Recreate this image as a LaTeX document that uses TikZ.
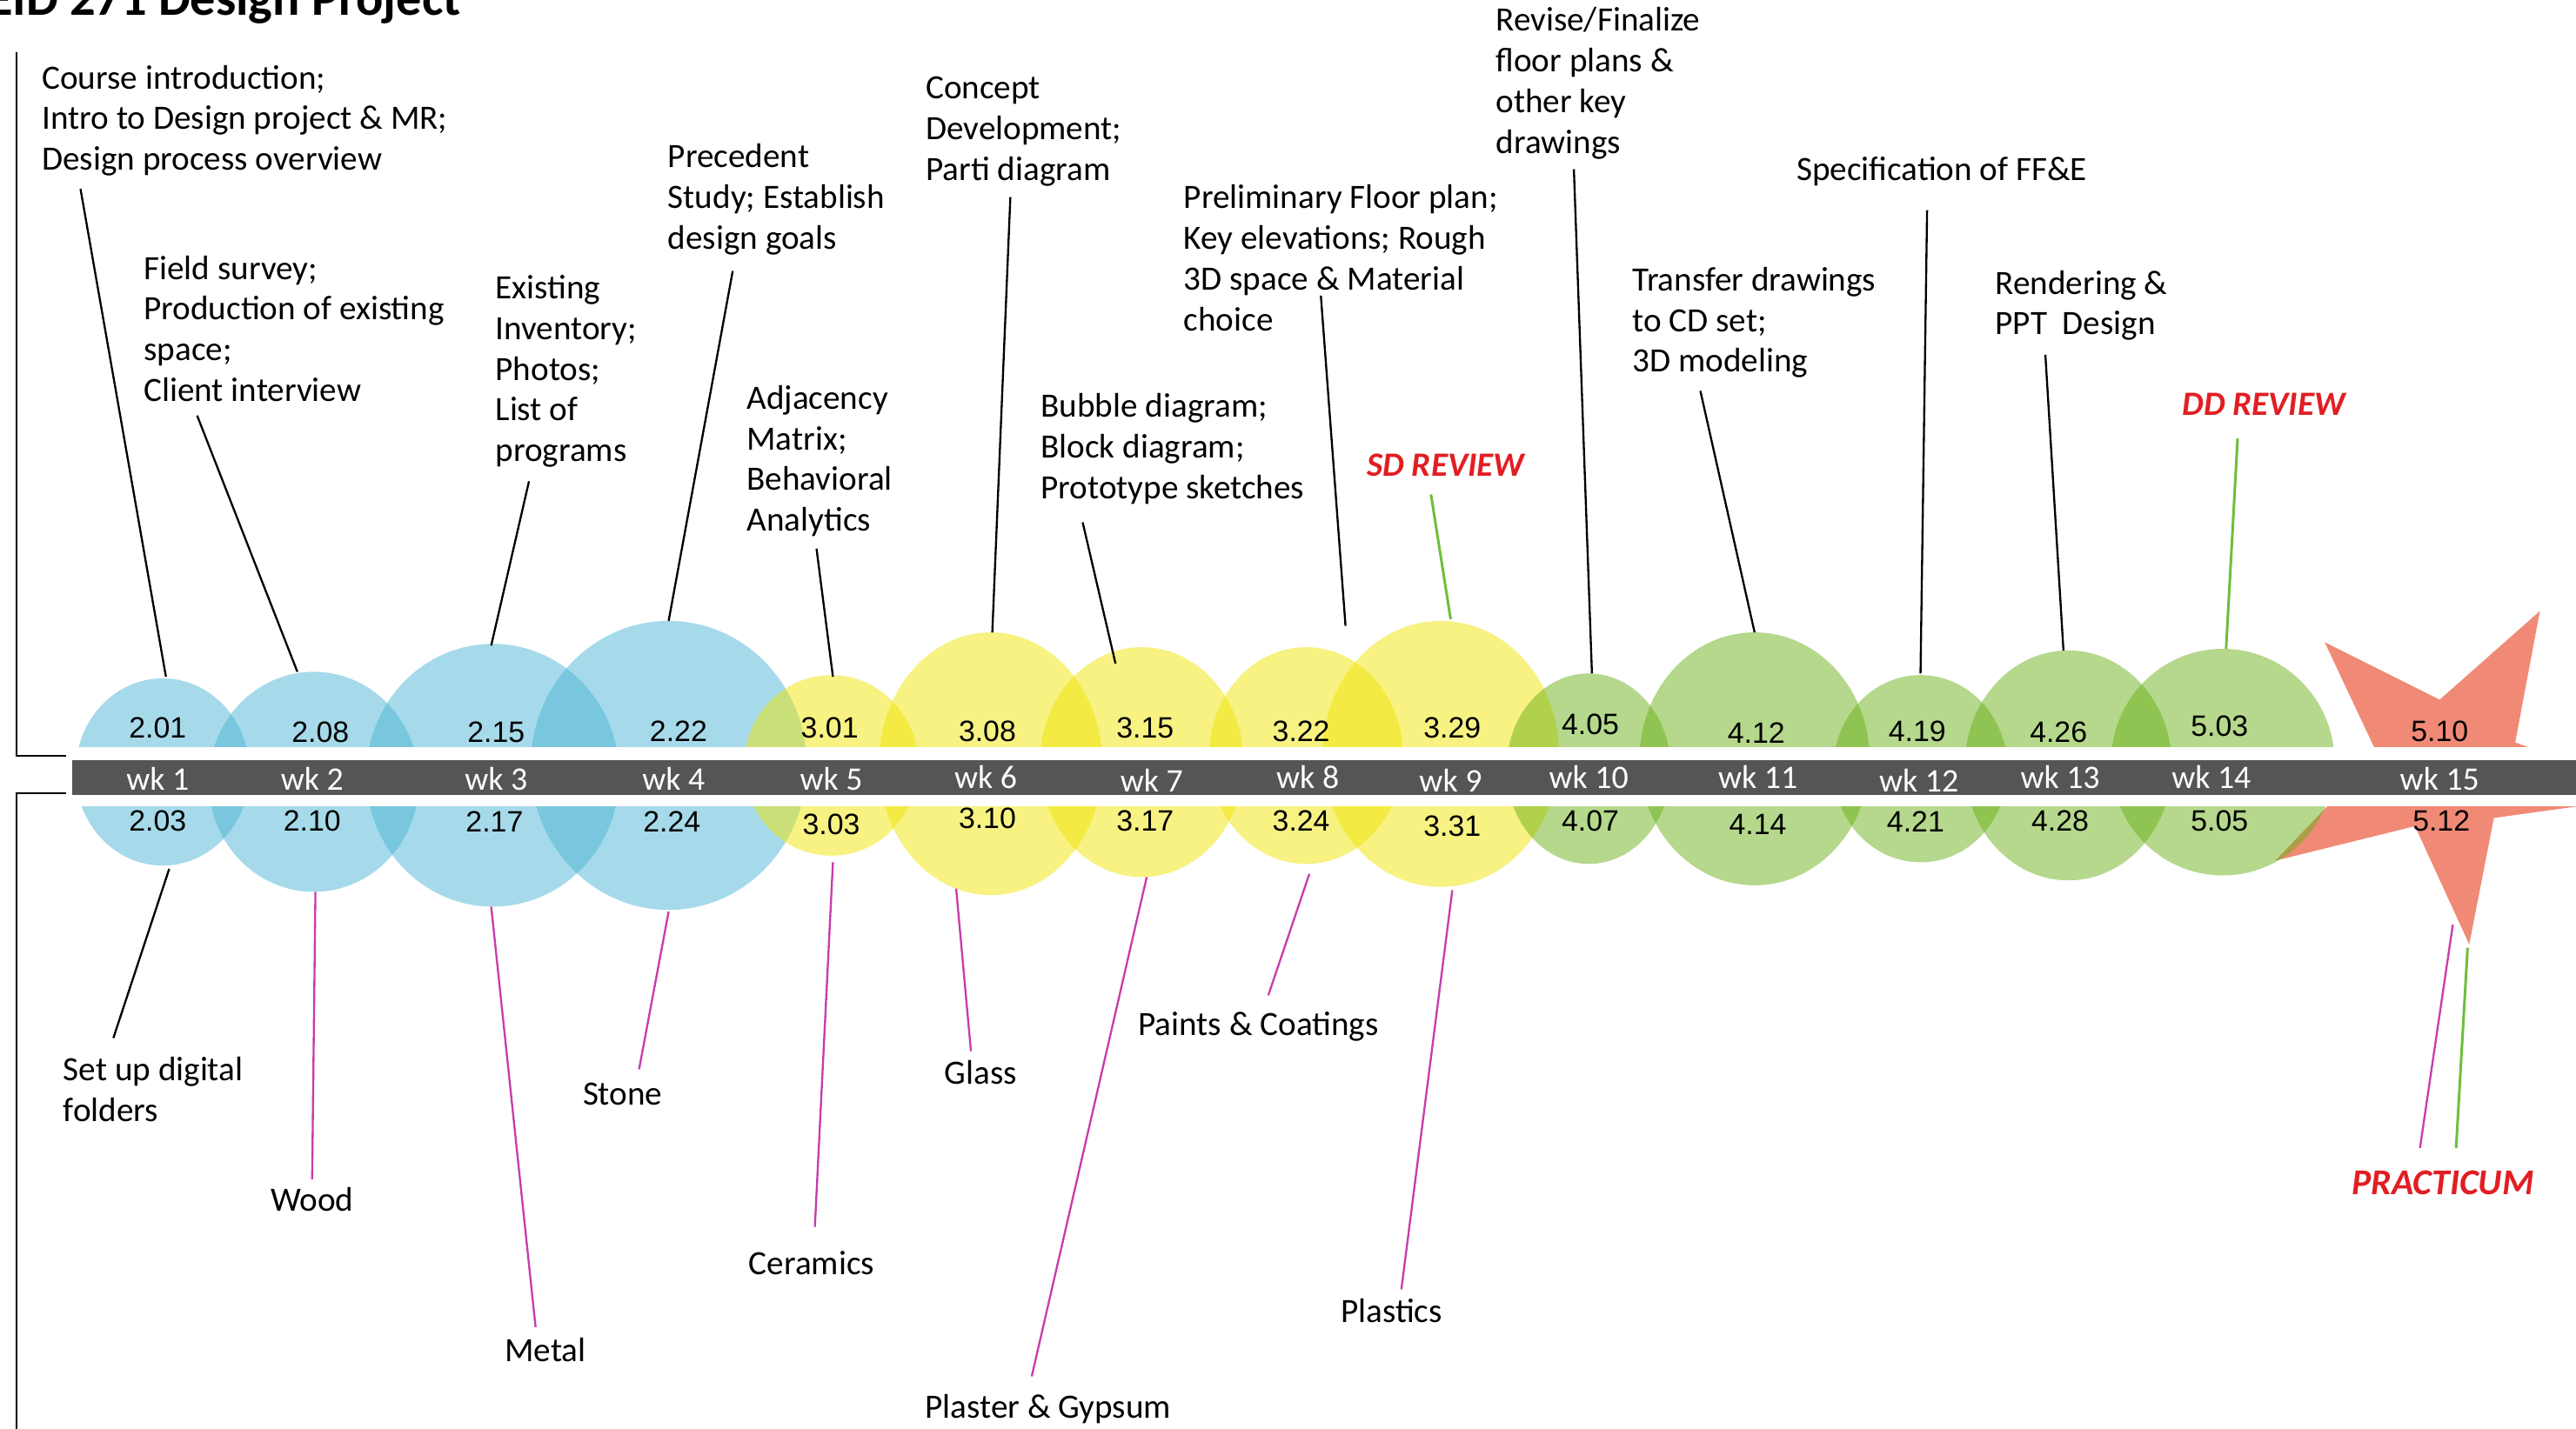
\documentclass[tikz,border=0pt]{standalone}
\usepackage{fontspec}
\setmainfont{Carlito}
\newfontfamily\numfont{Liberation Sans}
\usetikzlibrary{shapes.geometric}
\definecolor{cblue}{RGB}{77,181,213}
\definecolor{cyellow}{RGB}{239,229,5}
\definecolor{cgreen}{RGB}{107,177,25}
\definecolor{cstar}{RGB}{240,138,118}
\definecolor{cbar}{RGB}{85,85,85}
\definecolor{cmag}{RGB}{200,60,170}
\definecolor{cline}{RGB}{110,190,60}
\definecolor{cred}{RGB}{225,30,35}

\begin{document}
\begin{tikzpicture}[x=0.02cm,y=-0.02cm,inner sep=0pt,line width=0.7pt]
\tikzstyle{bblob}=[ellipse,fill=cblue,fill opacity=0.5]
\tikzstyle{yblob}=[ellipse,fill=cyellow,fill opacity=0.5]
\tikzstyle{gblob}=[ellipse,fill=cgreen,fill opacity=0.5]
\tikzstyle{num}=[font=\numfont\fontsize{10.2}{12}\selectfont]
\tikzstyle{wk}=[text=white,font=\fontsize{11.4}{13}\selectfont]
\tikzstyle{note}=[anchor=north west,align=left,font=\fontsize{11.8}{14.1}\selectfont]
\tikzstyle{mat}=[font=\fontsize{11.8}{14.1}\selectfont]
\tikzstyle{review}=[text=cred,font=\bfseries\itshape\fontsize{11.8}{14.1}\selectfont]
\tikzstyle{lead}=[black]
\tikzstyle{mlead}=[cmag]
\tikzstyle{glead}=[cline,line width=0.9pt]
\useasboundingbox (0,0) rectangle (1568,870);
\clip (0,0) rectangle (1568,870);
\node[anchor=base west,font=\bfseries\fontsize{17.6}{20}\selectfont] (title) at (-8,9) {EID 271 Design Project};
\draw (40,460) -- (10,460) -- (10,32);
\draw (40,483) -- (10,483) -- (10,880);
% week 15 star
\fill[cstar] (1415,391) -- (1485,426) -- (1546,372) -- (1531,452) -- (1619,484) -- (1518,498)
  -- (1503,575) -- (1470,503) -- (1385,524) -- (1447,459) -- cycle;
\node[bblob,minimum width=2.12cm,minimum height=2.28cm] (w1) at (99,470) {};
\node[bblob,minimum width=2.56cm,minimum height=2.68cm] (w2) at (191,476) {};
\node[bblob,minimum width=3.08cm,minimum height=3.2cm] (w3) at (300,472) {};
\node[bblob,minimum width=3.36cm,minimum height=3.52cm] (w4) at (407,466) {};
\node[yblob,minimum width=2.12cm,minimum height=2.2cm] (w5) at (506,466) {};
\node[yblob,minimum width=2.72cm,minimum height=3.2cm] (w6) at (603,465) {};
\node[yblob,minimum width=2.48cm,minimum height=2.8cm] (w7) at (695,464) {};
\node[yblob,minimum width=2.36cm,minimum height=2.64cm] (w8) at (795,460) {};
\node[yblob,minimum width=2.88cm,minimum height=3.24cm] (w9) at (877,459) {};
\node[gblob,minimum width=2.0cm,minimum height=2.32cm] (w10) at (967,468) {};
\node[gblob,minimum width=2.8cm,minimum height=3.08cm] (w11) at (1068,462) {};
\node[gblob,minimum width=2.12cm,minimum height=2.28cm] (w12) at (1169,468) {};
\node[gblob,minimum width=2.52cm,minimum height=2.8cm] (w13) at (1259,466) {};
\node[gblob,minimum width=2.72cm,minimum height=2.76cm] (w14) at (1353,464) {};
% timeline bar
\fill[white] (44,455) rectangle (1570,491);
\fill[cbar] (44,463) rectangle (1570,484);
\node[wk] (k1) at (96,474) {wk 1};
\node[wk] (k2) at (190,474) {wk 2};
\node[wk] (k3) at (302,474) {wk 3};
\node[wk] (k4) at (410,474) {wk 4};
\node[wk] (k5) at (506,474) {wk 5};
\node[wk] (k6) at (600,473) {wk 6};
\node[wk] (k7) at (701,475) {wk 7};
\node[wk] (k8) at (796,473) {wk 8};
\node[wk] (k9) at (883,475) {wk 9};
\node[wk] (k10) at (967,473) {wk 10};
\node[wk] (k11) at (1070,473) {wk 11};
\node[wk] (k12) at (1168,475) {wk 12};
\node[wk] (k13) at (1254,473) {wk 13};
\node[wk] (k14) at (1346,473) {wk 14};
\node[wk] (k15) at (1485,474) {wk 15};
% dates above
\node[num] (d1a) at (96,443) {2.01};
\node[num] (d2a) at (195,446) {2.08};
\node[num] (d3a) at (302,446) {2.15};
\node[num] (d4a) at (413,445) {2.22};
\node[num] (d5a) at (505,443) {3.01};
\node[num] (d6a) at (601,445) {3.08};
\node[num] (d7a) at (697,443) {3.15};
\node[num] (d8a) at (792,445) {3.22};
\node[num] (d9a) at (884,443) {3.29};
\node[num] (d10a) at (968,441) {4.05};
\node[num] (d11a) at (1069,446) {4.12};
\node[num] (d12a) at (1167,445) {4.19};
\node[num] (d13a) at (1253,446) {4.26};
\node[num] (d14a) at (1351,442) {5.03};
\node[num] (d15a) at (1485,445) {5.10};
% dates below
\node[num] (d1b) at (96,500) {2.03};
\node[num] (d2b) at (190,500) {2.10};
\node[num] (d3b) at (301,500) {2.17};
\node[num] (d4b) at (409,500) {2.24};
\node[num] (d5b) at (506,502) {3.03};
\node[num] (d6b) at (601,498) {3.10};
\node[num] (d7b) at (697,500) {3.17};
\node[num] (d8b) at (792,500) {3.24};
\node[num] (d9b) at (884,503) {3.31};
\node[num] (d10b) at (968,500) {4.07};
\node[num] (d11b) at (1070,502) {4.14};
\node[num] (d12b) at (1166,500) {4.21};
\node[num] (d13b) at (1254,500) {4.28};
\node[num] (d14b) at (1351,500) {5.05};
\node[num] (d15b) at (1486,500) {5.12};
% tasks
\node[note] (t1) at (25,39) {Course introduction;\\Intro to Design project \& MR;\\Design process overview};
\node[note] (t2) at (87,155) {Field survey;\\Production of existing\\space;\\Client interview};
\node[note] (t3) at (301,167) {Existing\\Inventory;\\Photos;\\List of\\programs};
\node[note] (t4) at (406,87) {Precedent\\Study; Establish\\design goals};
\node[note] (t5) at (454,234) {Adjacency\\Matrix;\\Behavioral\\Analytics};
\node[note] (t6) at (563,46) {Concept\\Development;\\Parti diagram};
\node[note] (t7) at (633,239) {Bubble diagram;\\Block diagram;\\Prototype sketches};
\node[note] (t8) at (720,112) {Preliminary Floor plan;\\Key elevations; Rough\\3D space \& Material\\choice};
\node[review] (t9) at (880,283) {SD REVIEW};
\node[note] (t10) at (910,4) {Revise/Finalize\\floor plans \&\\other key\\drawings};
\node[note] (t11) at (993,162) {Transfer drawings\\to CD set;\\3D modeling};
\node[note] (t12) at (1093,95) {Specification of FF\&E};
\node[note] (t13) at (1214,164) {Rendering \&\\PPT~ Design};
\node[review] (t14) at (1378,246) {DD REVIEW};
% materials
\node[note] (m1) at (38,643) {Set up digital\\folders};
\node[mat] (m2) at (190,730) {Wood};
\node[mat] (m3) at (332,822) {Metal};
\node[mat] (m4) at (379,666) {Stone};
\node[mat] (m5) at (494,769) {Ceramics};
\node[mat] (m6) at (597,653) {Glass};
\node[mat] (m7) at (638,858) {Plaster \& Gypsum};
\node[mat] (m8) at (766,625) {Paints \& Coatings};
\node[mat] (m9) at (847,798) {Plastics};
\node[review,font=\bfseries\itshape\fontsize{12.6}{15}\selectfont] (m10) at (1487,720) {PRACTICUM};
% leader ends
\coordinate (s1) at (49,115);   \coordinate (e1) at (101,412);
\coordinate (s2) at (120,253);  \coordinate (e2) at (181,409);
\coordinate (s3) at (322,293);  \coordinate (e3) at (299,393);
\coordinate (s4) at (446,165);  \coordinate (e4) at (407,378);
\coordinate (s5) at (497,334);  \coordinate (e5) at (507,412);
\coordinate (s6) at (615,120);  \coordinate (e6) at (604,385);
\coordinate (s7) at (659,318);  \coordinate (e7) at (679,404);
\coordinate (s8) at (804,180);  \coordinate (e8) at (819,381);
\coordinate (s9) at (871,301);  \coordinate (e9) at (883,377);
\coordinate (s10) at (958,103); \coordinate (e10) at (969,410);
\coordinate (s11) at (1035,238); \coordinate (e11) at (1068,385);
\coordinate (s12) at (1173,128); \coordinate (e12) at (1169,410);
\coordinate (s13) at (1245,216); \coordinate (e13) at (1256,396);
\coordinate (s14) at (1362,267); \coordinate (e14) at (1355,395);
\coordinate (u1) at (103,529);  \coordinate (v1) at (69,632);
\coordinate (u2) at (192,543);  \coordinate (v2) at (190,718);
\coordinate (u3) at (299,552);  \coordinate (v3) at (326,808);
\coordinate (u4) at (407,555);  \coordinate (v4) at (389,651);
\coordinate (u5) at (507,525);  \coordinate (v5) at (496,747);
\coordinate (u6) at (582,541);  \coordinate (v6) at (591,640);
\coordinate (u7) at (698,534);  \coordinate (v7) at (628,838);
\coordinate (u8) at (797,532);  \coordinate (v8) at (772,606);
\coordinate (u9) at (884,542);  \coordinate (v9) at (853,785);
\coordinate (u10) at (1493,563); \coordinate (v10) at (1473,699);
\coordinate (u11) at (1502,577); \coordinate (v11) at (1495,699);
\path[lead] (s1) edge (e1);
\path[lead] (s2) edge (e2);
\path[lead] (s3) edge (e3);
\path[lead] (s4) edge (e4);
\path[lead] (s5) edge (e5);
\path[lead] (s6) edge (e6);
\path[lead] (s7) edge (e7);
\path[lead] (s8) edge (e8);
\path[glead] (s9) edge (e9);
\path[lead] (s10) edge (e10);
\path[lead] (s11) edge (e11);
\path[lead] (s12) edge (e12);
\path[lead] (s13) edge (e13);
\path[glead] (s14) edge (e14);
\path[lead] (u1) edge (v1);
\path[mlead] (u2) edge (v2);
\path[mlead] (u3) edge (v3);
\path[mlead] (u4) edge (v4);
\path[mlead] (u5) edge (v5);
\path[mlead] (u6) edge (v6);
\path[mlead] (u7) edge (v7);
\path[mlead] (u8) edge (v8);
\path[mlead] (u9) edge (v9);
\path[mlead] (u10) edge (v10);
\path[glead] (u11) edge (v11);
\end{tikzpicture}
\end{document}
